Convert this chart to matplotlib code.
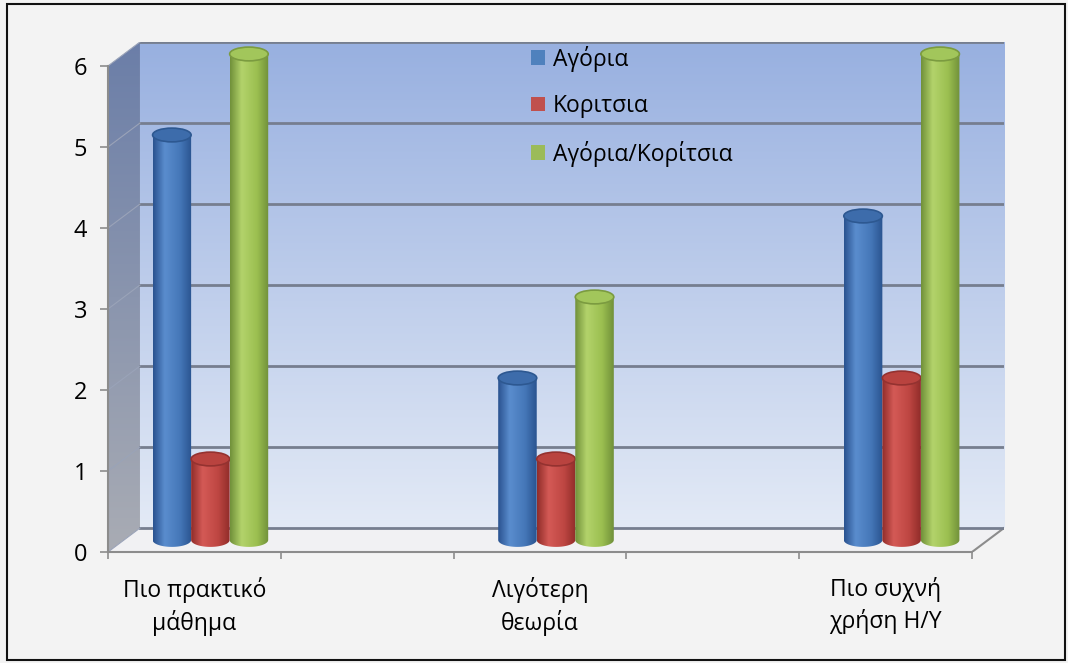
import numpy as np
import matplotlib.pyplot as plt
from matplotlib.colors import LinearSegmentedColormap
from matplotlib.patches import Polygon, Ellipse, PathPatch, Rectangle, Patch
from matplotlib.path import Path

plt.rcParams['font.family'] = ['Open Sans', 'DejaVu Sans']

# five category slots, only every other one holds data (as in the original sheet)
categories = ["Πιο πρακτικό\nμάθημα", "", "Λιγότερη\nθεωρία", "", "Πιο συχνή\nχρήση Η/Υ"]
series_names = ["Αγόρια", "Κοριτσια", "Αγόρια/Κορίτσια"]
boys = [5, None, 2, None, 4]
girls = [1, None, 1, None, 2]
both = [6, None, 3, None, 6]
y_ticks = [0, 1, 2, 3, 4, 5, 6]

# pseudo-3d geometry (data units)
DX, DY = 0.185, 0.296      # depth shift of the back wall
W = 0.223                  # cylinder width
EH = 0.17                  # ellipse height of cylinder caps

legend_colors = ['#4f81bd', '#c0504d', '#9bbb59']
body_colors = [
    ['#2a5390', '#5a8dce', '#4577b8', '#2a5490'],
    ['#912d2a', '#d45a56', '#be4642', '#912d2a'],
    ['#71913a', '#b3d36b', '#9bbf50', '#71913a'],
]
top_colors = [('#3d6cab', '#2d5891'), ('#b9433f', '#943230'), ('#a2c65b', '#7b9b40')]


def cylinder(ax, xc, h, colors, top, z):
    x0, x1 = xc - W / 2, xc + W / 2
    yb = DY / 2
    yt = yb + h
    theta = np.linspace(np.pi, 2 * np.pi, 40)
    arc = np.column_stack([xc + W / 2 * np.cos(theta), yb + EH / 2 * np.sin(theta)])
    verts = np.vstack([[x0, yt], arc, [x1, yt], [x0, yt]])
    body = PathPatch(Path(verts, closed=True), facecolor='none', edgecolor='none')
    ax.add_patch(body)
    cmap = LinearSegmentedColormap.from_list('cyl', list(zip([0, .3, .7, 1], colors)))
    im = ax.imshow(np.linspace(0, 1, 64)[None, :], cmap=cmap, aspect='auto',
                   extent=[x0, x1, yb - EH / 2, yt], zorder=z, interpolation='bicubic')
    im.set_clip_path(body)
    ax.add_patch(Ellipse((xc, yt), W, EH, facecolor=top[0], edgecolor=top[1],
                         lw=1.2, zorder=z + 0.5))


fig = plt.figure(figsize=(10.68, 6.63), dpi=100, facecolor='#f3f3f3')
fig.patches.append(Rectangle((7 / 1068, 3 / 663), 1058 / 1068, 656 / 663, fill=False,
                             edgecolor='#111111', lw=1.5, transform=fig.transFigure))
ax = fig.add_axes([108 / 1068, 111 / 663, 896 / 1068, 510 / 663])
ax.set_facecolor('none')

n = len(categories)
xl, xr = -0.5, n - 0.5
top = y_ticks[-1]

# back wall
wall = LinearSegmentedColormap.from_list('wall', ['#98b0e0', '#e3eaf6'])
ax.imshow(np.linspace(0, 1, 256)[:, None], cmap=wall, aspect='auto',
          extent=[xl + DX, xr + DX, DY, top + DY], zorder=0)

# side wall
side = Polygon([(xl, 0), (xl + DX, DY), (xl + DX, top + DY), (xl, top)],
               facecolor='none', edgecolor='none')
ax.add_patch(side)
side_cmap = LinearSegmentedColormap.from_list('side', ['#6b7ea8', '#a9acb4'])
im = ax.imshow(np.linspace(0, 1, 256)[:, None], cmap=side_cmap, aspect='auto',
               extent=[xl, xl + DX, 0, top + DY], zorder=0.5)
im.set_clip_path(side)

# floor
ax.add_patch(Polygon([(xl, 0), (xr, 0), (xr + DX, DY), (xl + DX, DY)],
                     facecolor='#f1f1f3', edgecolor='none', zorder=1))
ax.plot([xr, xr + DX], [0, DY], color='#8c8c8c', lw=1.5, zorder=2)

# gridlines on back and side walls
for v in y_ticks:
    ax.plot([xl + DX, xr + DX], [v + DY, v + DY], color='#767e8f', lw=2, zorder=2)
    ax.plot([xl, xl + DX], [v, v + DY], color='#9aa3b8', lw=0.8, zorder=2)

# cylinders
x = np.arange(n)
for s, vals in enumerate([boys, girls, both]):
    for i, v in enumerate(vals):
        if v is None:
            continue
        cylinder(ax, x[i] + (s - 1) * W + DX / 2, v, body_colors[s], top_colors[s], 3 + s)

ax.set_xlim(xl, xr + DX)
ax.set_ylim(0, top + DY)

for side_name in ['top', 'right']:
    ax.spines[side_name].set_visible(False)
ax.spines['left'].set_bounds(0, top)
ax.spines['bottom'].set_bounds(xl, xr)
for side_name in ['left', 'bottom']:
    ax.spines[side_name].set_color('#8c8c8c')
    ax.spines[side_name].set_linewidth(1.5)
    ax.spines[side_name].set_zorder(6)

ax.set_yticks(y_ticks)
ax.tick_params(axis='y', direction='out', length=6, width=1.2, color='#8c8c8c',
               labelsize=17, pad=9)
ax.set_xticks(np.arange(n + 1) - 0.5)
ax.set_xticklabels([])
ax.tick_params(axis='x', which='major', direction='out', length=5, width=1.2, color='#8c8c8c')
ax.set_xticks(x, categories, minor=True)
ax.tick_params(axis='x', which='minor', length=0, labelsize=16.5, pad=18)
for lbl in ax.get_xticklabels(minor=True):
    lbl.set_linespacing(1.35)

handles = [Patch(facecolor=c, edgecolor='none') for c in legend_colors]
ax.legend(handles, series_names, loc='upper left', bbox_to_anchor=(1.95, 6.25),
          bbox_transform=ax.transData, frameon=False, fontsize=16.5,
          handlelength=0.6, handleheight=0.6, handletextpad=0.35,
          labelspacing=0.98, borderpad=0, borderaxespad=0)

fig.savefig('out.png', dpi=100, facecolor=fig.get_facecolor())
